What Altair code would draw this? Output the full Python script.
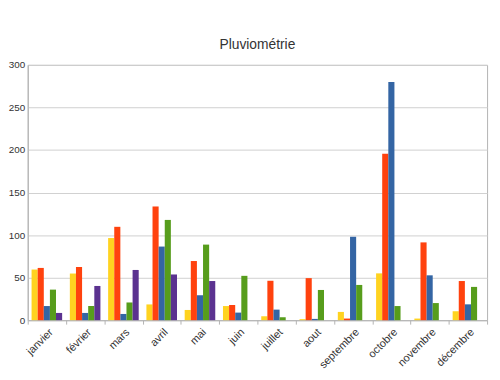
import altair as alt
import pandas as pd

months = ["janvier", "février", "mars", "avril", "mai", "juin", "juillet",
          "aout", "septembre", "octobre", "novembre", "décembre"]
series = ["Série 1", "Série 2", "Série 3", "Série 4", "Série 5"]
colors = ["#FFD320", "#FF420E", "#3465A4", "#579D1C", "#5B3290"]

s1 = [59.5, 54.8, 96.5, 18.5, 12.0, 16.6, 4.6, 1.2, 9.7, 55.0, 1.9, 10.5]
s2 = [61.4, 62.5, 109.7, 133.6, 69.5, 17.8, 46.3, 49.4, 1.9, 195.5, 91.4, 46.0]
s3 = [16.6, 8.5, 7.3, 86.5, 29.3, 8.9, 12.4, 1.5, 98.0, 280.0, 52.7, 18.6]
s4 = [35.9, 16.6, 20.8, 117.8, 88.8, 52.1, 3.5, 35.5, 41.4, 16.6, 20.1, 39.1]
s5 = [8.5, 40.2, 59.0, 53.7, 46.0, None, None, None, None, None, None, None]

rows = []
for name, vals in zip(series, [s1, s2, s3, s4, s5]):
    for m, v in zip(months, vals):
        if v is not None:
            rows.append({"mois": m, "serie": name, "valeur": v})
df = pd.DataFrame(rows)

chart = alt.Chart(df).mark_bar().encode(
    x=alt.X("mois:N", sort=months, title=None,
            scale=alt.Scale(paddingInner=0, paddingOuter=0),
            axis=alt.Axis(labelAngle=-45, tickBand="extent", tickSize=4,
                          tickColor="#b3b3b3", domainColor="#b3b3b3",
                          labelFont="Liberation Sans", labelFontSize=11,
                          labelColor="#333333", labelPadding=2)),
    xOffset=alt.XOffset("serie:N", sort=series,
                        scale=alt.Scale(paddingInner=0, paddingOuter=0.63)),
    y=alt.Y("valeur:Q", title=None,
            scale=alt.Scale(domain=[0, 300], nice=False),
            axis=alt.Axis(values=[0, 50, 100, 150, 200, 250, 300], ticks=False,
                          domainColor="#b3b3b3", gridColor="#d0d0d0",
                          labelFont="Liberation Sans", labelFontSize=10,
                          labelColor="#333333", labelPadding=3)),
    color=alt.Color("serie:N", sort=series,
                    scale=alt.Scale(domain=series, range=colors), legend=None),
).properties(
    width=466,
    height=259,
    title=alt.TitleParams("Pluviométrie", font="Liberation Sans", fontSize=14,
                          fontWeight="normal", color="#333333", offset=8),
    autosize=alt.AutoSizeParams(type="none"),
    padding={"left": 20, "top": 55, "right": 5, "bottom": 58},
).configure_view(stroke="#b3b3b3")

chart.save("out.html", embed_options={"renderer": "svg", "actions": False})
